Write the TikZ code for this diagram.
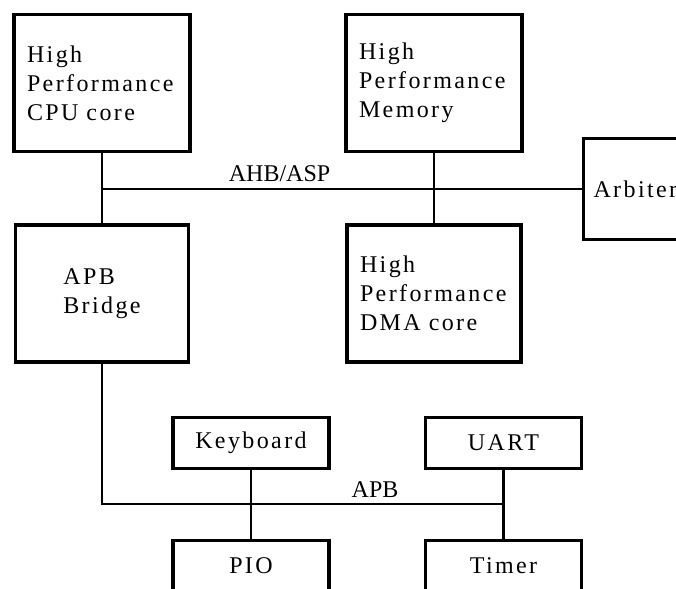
\documentclass[tikz,border=0pt]{standalone}
\usepackage{fontspec}
\setmainfont{Liberation Serif}
\newfontfamily\spacedfont[LetterSpace=10]{Liberation Serif}
\usepackage{tikz}
\usetikzlibrary{%
  positioning,%
  calc%
}

\begin{document}
\begin{tikzpicture}
    [   x=1pt
    ,   y=1pt
    ,   line width=2.4pt
    ,   module/.style=
            {   % The shape:
                rectangle
            ,   line width=3.4pt
            ,   draw=black
            ,   inner xsep=13pt
            ,   % The text
                align=left
            ,   font=\spacedfont\fontsize{24}{29}\selectfont
            }
    ,   big/.style={module, minimum height=137pt}
    ,   small/.style={module, minimum width=156pt, minimum height=51pt, align=center}
    ,   bus/.style={font=\fontsize{24}{28}\selectfont, anchor=base}
    ]
    \useasboundingbox (0,0) rectangle (676,588);

    % AHB side
    \node[big, text width=150pt](cpu) at (102,505) {High\\Performance\\CPU core};
    \node[big, text width=150pt](mem) at (434,505) {High\\Performance\\Memory};
    \node[big, minimum width=173pt](bridge) at (102,294.5) {APB\\Bridge};
    \node[big, text width=148pt](dma) at (434,294.5) {High\\Performance\\DMA core};
    \node[module, inner xsep=10pt, text width=100pt, minimum height=101pt](arb) at (643.5,399) {Arbiter};

    % APB side
    \node[small](kbd) at (251,145) {Keyboard};
    \node[small](uart) at (503.5,145) {UART};
    \node[small](pio) at (251,22) {PIO};
    \node[small](timer) at (503.5,22) {Timer};

    \coordinate(ahb) at (cpu.south|-arb.west);
    \coordinate(apbl) at (bridge.south|-0,84);
    \coordinate(apbr) at (uart.south|-apbl);

    \draw(cpu)--(bridge);
    \draw(mem)--(dma);
    \draw(ahb)--(arb.west) node[bus,pos=.37,yshift=7pt]{AHB/ASP};
    \draw(bridge)--(apbl)--(apbr) node[bus,pos=.68,yshift=6pt]{APB};
    \draw(kbd)--(pio);
    \draw(uart)--(timer);
\end{tikzpicture}
\end{document}
